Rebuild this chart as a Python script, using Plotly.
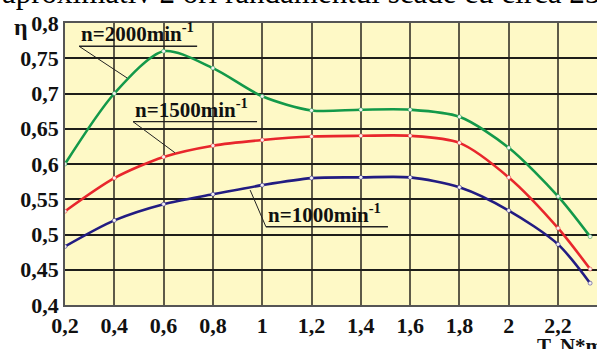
import plotly.graph_objects as go

# ---- data ----
x_vals = [0.2, 0.4, 0.6, 0.8, 1.0, 1.2, 1.4, 1.6, 1.8, 2.0, 2.2, 2.33]
eta_2000 = [0.600, 0.700, 0.760, 0.736, 0.696, 0.676, 0.677, 0.677, 0.667, 0.623, 0.554, 0.497]
eta_1500 = [0.533, 0.580, 0.610, 0.626, 0.634, 0.639, 0.640, 0.640, 0.630, 0.581, 0.509, 0.451]
eta_1000 = [0.483, 0.520, 0.543, 0.557, 0.570, 0.580, 0.581, 0.581, 0.567, 0.534, 0.486, 0.431]

x_tickvals = [0.2, 0.4, 0.6, 0.8, 1.0, 1.2, 1.4, 1.6, 1.8, 2.0, 2.2]
x_ticktext = ["0,2", "0,4", "0,6", "0,8", "1", "1,2", "1,4", "1,6", "1,8", "2", "2,2"]
y_tickvals = [0.4, 0.45, 0.5, 0.55, 0.6, 0.65, 0.7, 0.75, 0.8]
y_ticktext = ["0,4", "0,45", "0,5", "0,55", "0,6", "0,65", "0,7", "0,75", "0,8"]

series_names = ["n=2000min<sup>-1</sup>", "n=1500min<sup>-1</sup>", "n=1000min<sup>-1</sup>"]
series_colors = ["#13994a", "#e8262c", "#221c82"]

# label placement (data coords): text left x, underline y, underline right x, leader end x, leader end y
label_pos = [
    (0.257, 0.767, 0.736, 0.452, 0.722),
    (0.476, 0.660, 0.979, 0.646, 0.616),
    (1.015, 0.511, 1.510, 0.951, 0.563),
]

SERIF = "Liberation Serif"

fig = go.Figure()
for ys, name, col in zip([eta_2000, eta_1500, eta_1000], series_names, series_colors):
    fig.add_trace(go.Scatter(
        x=x_vals, y=ys, mode="lines+markers", name=name,
        line=dict(color=col, width=2.6, shape="spline", smoothing=0.8),
        marker=dict(size=4, color="#f4f0f0", line=dict(color=col, width=0.5)),
        showlegend=False, hoverinfo="skip",
    ))

for name, (lx, uy, rx, ex, ey) in zip(series_names, label_pos):
    fig.add_annotation(x=lx, y=uy, xref="x", yref="y", text="<b>" + name + "</b>",
                       showarrow=False, xanchor="left", yanchor="bottom", yshift=-2,
                       font=dict(family=SERIF, size=21, color="#111"))
    fig.add_shape(type="line", xref="x", yref="y", x0=lx, x1=rx, y0=uy, y1=uy,
                  line=dict(color="#222", width=1.3))
    fig.add_shape(type="line", xref="x", yref="y", x0=lx, x1=ex, y0=uy, y1=ey,
                  line=dict(color="#222", width=1))

# eta symbol
fig.add_annotation(x=-0.1, y=0.985, xref="paper", yref="paper", text="<b>η</b>",
                   showarrow=False, xanchor="left", yanchor="middle",
                   font=dict(family=SERIF, size=24, color="#111"))
# axis title (clipped at right)
fig.add_annotation(x=0.884, y=-0.145, xref="paper", yref="paper", text="<b>T. N*m</b>",
                   showarrow=False, xanchor="left", yanchor="middle",
                   font=dict(family=SERIF, size=21, color="#111"))
# surrounding document text, clipped at the top
fig.add_annotation(x=-0.122, y=1.040, xref="paper", yref="paper",
                   text="aproximativ 2 ori randamentul scade cu circa 25",
                   showarrow=False, xanchor="left", yanchor="bottom",
                   font=dict(family=SERIF, size=31, color="#000"))

fig.update_layout(
    width=597, height=349,
    margin=dict(l=65, r=0, t=23, b=44, autoexpand=False),
    paper_bgcolor="white", plot_bgcolor="#fef9c6",
    xaxis=dict(range=[0.2, 2.358], tickvals=x_tickvals,
               ticktext=["<b>" + t + "</b>" for t in x_ticktext],
               showgrid=True, gridcolor="#5e5a48", gridwidth=2,
               showline=True, linecolor="#555", linewidth=1.5, mirror=True,
               zeroline=False, ticks="", automargin=False,
               tickfont=dict(family=SERIF, size=22, color="#111", weight="bold")),
    yaxis=dict(range=[0.4, 0.8], tickvals=y_tickvals,
               ticktext=["<b>" + t + "</b>" for t in y_ticktext],
               showgrid=True, gridcolor="#1e1e1a", gridwidth=1.5,
               showline=True, linecolor="#555", linewidth=1.5, mirror=True,
               zeroline=False, ticks="", automargin=False,
               tickfont=dict(family=SERIF, size=22, color="#111", weight="bold")),
)

fig.write_html("out.html", config={"displayModeBar": False},
               post_script="document.body.style.margin='0';")
